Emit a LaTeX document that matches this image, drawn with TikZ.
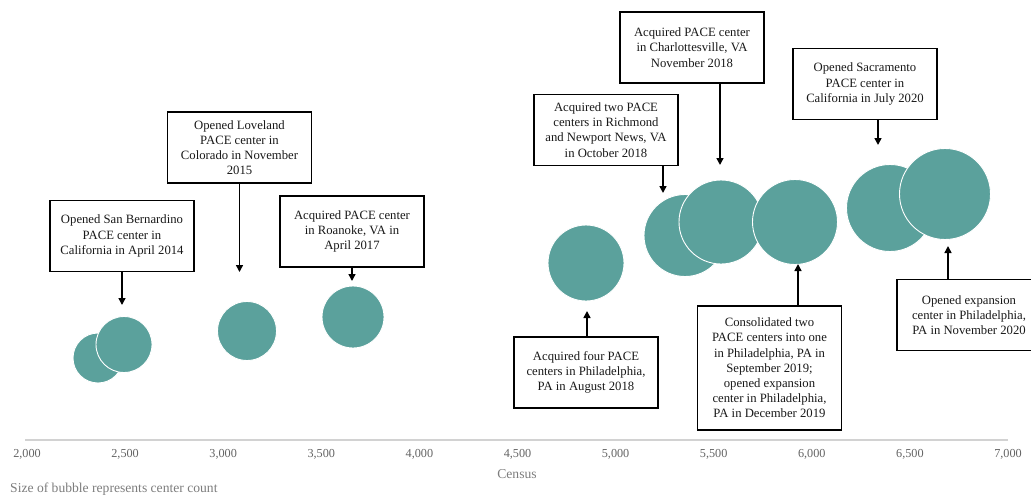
\documentclass[tikz,border=0pt]{standalone}
\usepackage{fontspec}
\setmainfont{Liberation Serif}
\usepackage{xcolor}
\usetikzlibrary{positioning,arrows.meta}
\definecolor{teal1}{RGB}{91,161,156}
\definecolor{axisgray}{RGB}{210,210,210}
\definecolor{labgray}{RGB}{125,125,125}
\definecolor{tickgray}{RGB}{100,100,100}

\begin{document}
\begin{tikzpicture}[
  x=1pt, y=-1pt,
  event/.style={draw, line width=1.9pt, fill=white, minimum width=144pt, minimum height=71pt, inner sep=2pt, align=center, text=black!90, font=\fontsize{12.7}{15.2}\selectfont},
  bubble/.style={circle, fill=teal1, draw=white, line width=0.9pt, inner sep=0pt},
  arr/.style={-{Triangle[width=7pt,length=7pt]}, line width=1.5pt},
  tick/.style={text=tickgray, font=\fontsize{12.2}{14}\selectfont},
]
\useasboundingbox (0,0) rectangle (1031,495);

% Axis
\coordinate (ax0) at (25,440);
\coordinate (ax1) at (1008,440);
\draw[axisgray, line width=1.5pt] (ax0) -- (ax1);
\foreach \v/\lab in {2000/{2,000},2500/{2,500},3000/{3,000},3500/{3,500},4000/{4,000},4500/{4,500},5000/{5,000},5500/{5,500},6000/{6,000},6500/{6,500},7000/{7,000}}
  \node[tick] (t\v) at ({27+(\v-2000)*0.1962},454) {\lab};
\node[text=labgray, font=\fontsize{13.6}{15}\selectfont] (census) at (517,474) {Census};
\node[text=labgray, font=\fontsize{13.6}{15}\selectfont, anchor=west, inner sep=0pt] (note) at (10,489) {Size of bubble represents center count};

% Bubbles
\node[bubble, minimum size=50pt] (b1) at (98,358) {};
\node[bubble, minimum size=56pt] (b2) at (124,344.5) {};
\node[bubble, minimum size=59pt] (b3) at (247,331) {};
\node[bubble, minimum size=62pt] (b4) at (353,317) {};
\node[bubble, minimum size=76pt] (b5) at (586,263) {};
\node[bubble, minimum size=82pt] (b6) at (685,235.5) {};
\node[bubble, minimum size=84pt] (b7) at (721,222) {};
\node[bubble, minimum size=85pt] (b8) at (795,222) {};
\node[bubble, minimum size=87pt] (b9) at (890,208) {};
\node[bubble, minimum size=91pt] (b10) at (945,194) {};

% Events above
\node[event] (sanbern) at (122,236) {Opened San Bernardino\\PACE center in\\California in April 2014};
\coordinate (sanbernTip) at (122,305);
\draw[arr] (sanbern.south) -- (sanbernTip);

\node[event] (loveland) at (239.5,147.5) {Opened Loveland\\PACE center in\\Colorado in November\\2015};
\coordinate (lovelandTip) at (239.5,272);
\draw[arr] (loveland.south) -- (lovelandTip);

\node[event] (roanoke) at (352,231.5) {Acquired PACE center\\in Roanoke, VA in\\April 2017};
\coordinate (roanokeTip) at (352,281);
\draw[arr] (roanoke.south) -- (roanokeTip);

\node[event] (richmond) at (606,130) {Acquired two PACE\\centers in Richmond\\and Newport News, VA\\in October 2018};
\coordinate (richmondTip) at (663,193);
\draw[arr] (richmondTip |- richmond.south) -- (richmondTip);

\node[event] (charlott) at (692,47.5) {Acquired PACE center\\in Charlottesville, VA\\November 2018};
\coordinate (charlottTip) at (720,165);
\draw[arr] (charlottTip |- charlott.south) -- (charlottTip);

\node[event] (sacram) at (865,84) {Opened Sacramento\\PACE center in\\California in July 2020};
\coordinate (sacramTip) at (878,145);
\draw[arr] (sacramTip |- sacram.south) -- (sacramTip);

% Events below
\node[event] (phila4) at (586,372.5) {Acquired four PACE\\centers in Philadelphia,\\PA in August 2018};
\coordinate (phila4Tip) at (587,311);
\draw[arr] (phila4Tip |- phila4.north) -- (phila4Tip);

\node[event, minimum height=124pt] (consol) at (769.5,368) {Consolidated two\\PACE centers into one\\in Philadelphia, PA in\\September 2019;\\opened expansion\\center in Philadelphia,\\PA in December 2019};
\coordinate (consolTip) at (798,264);
\draw[arr] (consolTip |- consol.north) -- (consolTip);

\node[event] (expand) at (969,315) {Opened expansion\\center in Philadelphia,\\PA in November 2020};
\coordinate (expandTip) at (948,246);
\draw[arr] (expandTip |- expand.north) -- (expandTip);
\end{tikzpicture}
\end{document}
